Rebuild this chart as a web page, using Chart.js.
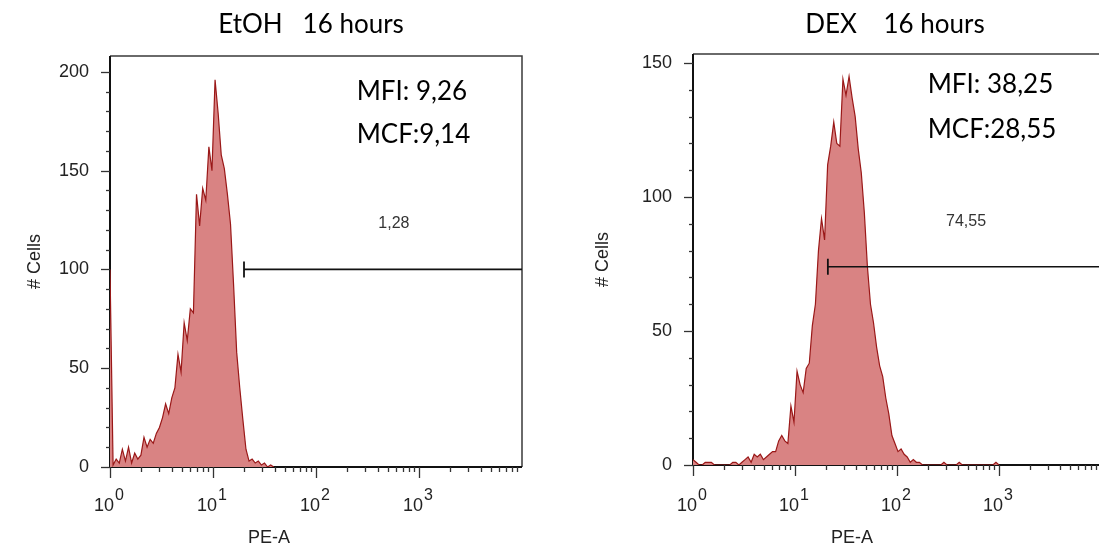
<!DOCTYPE html>
<html>
<head>
<meta charset="utf-8">
<script src="https://cdn.jsdelivr.net/npm/chart.js@4.4.1/dist/chart.umd.min.js"></script>
<style>
html,body{margin:0;padding:0;background:#fff;overflow:hidden;width:1099px;height:544px}
canvas{position:absolute;top:0}
#c1{left:0}
#c2{left:560px}
</style>
</head>
<body>
<canvas id="c1" width="560" height="544"></canvas>
<canvas id="c2" width="560" height="544"></canvas>
<script>
// histogram bins start at 10^0, each bin is 0.03 decade wide
const BIN_STEP=0.03;
const etohCounts=[100,1,4,2,9,3,10,2,7,4,6,15,10,14,12,17,20,25,32,27,35,40,57,48,73,64,80,78,138,122,
  141,135,162,150,196,179,158,151,138,123,92,58,40,24,9,3,4,2,3,1,2,0,1,0];
const dexCounts=[2,1,0,0,1,1,1,0,0,0, 0,0,0,1,1,0,1,2,3,1, 4,3,4,2,3,4,5,5,9,11,
  9,8,22,16,35,30,27,36,38,52, 60,80,92,84,112,119,128,120,119,144, 138,145,137,130,118,109,94,74,60,53,
  44,37,33,25,19,11,8,5,6,4, 3,1,2,1,1,0,0,0,0,0, 0,0,1,0,0,0,0,1,0,0, 0,0,0,0,0,0,0,0,0,1, 0];

const titles=["EtOH   16 hours","DEX    16 hours"];
const yMax=[208,153.4];
const yTicks=[[0,50,100,150,200],[0,50,100,150]];
const gateStart=[20,21];
const gateLevel=[100,74];
const gateLabel=["1,28","74,55"];
const gateLabelPos=[[570,123],[475,91]];
const mfiText=[["MFI: 9,26","MCF:9,14"],["MFI: 38,25","MCF:28,55"]];
const mfiPos=[[[248,190],[248,168]],[[200,142],[200,125]]];
const xDecades=[0,1,2,3];

const ARIAL='"Liberation Sans", Arial, sans-serif';
const CALIBRI='Lato, "Open Sans", sans-serif';

const toPoints=(counts)=>counts.map((c,i)=>({x:Math.pow(10,i*BIN_STEP),y:c}));

function flowPlugin(k,lay){
  return {
    id:"flow"+k,
    beforeDatasetsDraw(chart){
      const {ctx,chartArea:a,scales:{x,y}}=chart;
      ctx.save();
      // frame
      ctx.strokeStyle="#3a3a3a"; ctx.lineWidth=1.5;
      ctx.beginPath(); ctx.moveTo(a.left,a.top); ctx.lineTo(a.right,a.top); ctx.lineTo(a.right,a.bottom); ctx.stroke();
      ctx.strokeStyle="#111"; ctx.lineWidth=2;
      ctx.beginPath(); ctx.moveTo(a.left,a.top); ctx.lineTo(a.left,a.bottom); ctx.lineTo(a.right,a.bottom); ctx.stroke();
      // y ticks
      ctx.lineWidth=1.3; ctx.strokeStyle="#333";
      for(let v=0; v<=y.max; v+=10){
        const py=Math.round(y.getPixelForValue(v))+0.5, len=v%50===0?9:4;
        ctx.beginPath(); ctx.moveTo(a.left,py); ctx.lineTo(a.left-len,py); ctx.stroke();
      }
      // x ticks (log)
      for(let d=0; d<4; d++){
        for(let m=1;m<=9;m++){
          const v=m*Math.pow(10,d); if(v>x.max) break;
          const px=Math.round(x.getPixelForValue(v))+0.5, len=m===1?11:5;
          ctx.beginPath(); ctx.moveTo(px,a.bottom); ctx.lineTo(px,a.bottom+len); ctx.stroke();
        }
      }
      ctx.restore();
    },
    afterDatasetsDraw(chart){
      const {ctx,chartArea:a,scales:{x,y}}=chart;
      ctx.save();
      // x tick labels 10^n
      ctx.fillStyle="#222"; ctx.textBaseline="alphabetic";
      xDecades.forEach(d=>{
        const px=x.getPixelForValue(Math.pow(10,d));
        ctx.font="18px "+ARIAL; ctx.textAlign="right";
        ctx.fillText("10",px+4,511);
        ctx.font="16px "+ARIAL; ctx.textAlign="left";
        ctx.fillText(String(d),px+5,500);
      });
      // axis titles
      ctx.font="18px "+ARIAL; ctx.textAlign="center";
      ctx.fillText("PE-A",lay.peX,543);
      ctx.save(); ctx.translate(lay.cellsX,(a.top+a.bottom)/2); ctx.rotate(-Math.PI/2);
      ctx.textBaseline="middle"; ctx.fillText("# Cells",0,0); ctx.restore();
      // gate percentage
      ctx.font="16px "+ARIAL; ctx.textAlign="center"; ctx.textBaseline="middle"; ctx.fillStyle="#333";
      ctx.fillText(gateLabel[k],x.getPixelForValue(gateLabelPos[k][0]),y.getPixelForValue(gateLabelPos[k][1]));
      // MFI / MCF
      ctx.font="26px "+CALIBRI; ctx.textAlign="left"; ctx.fillStyle="#000";
      mfiText[k].forEach((t,i)=>ctx.fillText(t,x.getPixelForValue(mfiPos[k][i][0]),y.getPixelForValue(mfiPos[k][i][1])));
      // panel title
      ctx.textAlign="center";
      ctx.fillText(titles[k],lay.titleX,25);
      ctx.restore();
    }
  };
}

function makeChart(id,k,counts,lay){
  return new Chart(document.getElementById(id),{
    type:"line",
    data:{datasets:[
      {data:toPoints(counts),borderColor:"#9a1818",borderWidth:1.2,backgroundColor:"#d98383",
       fill:"origin",pointRadius:0,tension:0,order:2},
      {data:[{x:gateStart[k],y:gateLevel[k]},{x:10000,y:gateLevel[k]}],borderColor:"#111",borderWidth:1.6,
       fill:false,pointStyle:"line",rotation:90,pointRadius:[8,0],pointBorderWidth:1.8,pointBorderColor:"#111",order:1}
    ]},
    options:{
      responsive:false,animation:false,
      layout:{padding:{top:lay.top,right:lay.right,left:0,bottom:0}},
      plugins:{legend:{display:false},tooltip:{enabled:false}},
      scales:{
        x:{type:"logarithmic",min:1,max:10000,grid:{display:false},border:{display:false},ticks:{display:false},
           afterFit:(s)=>{s.height=lay.xh;}},
        y:{min:0,max:yMax[k],grid:{display:false,tickLength:8},border:{display:false},
           ticks:{padding:13,color:"#222",font:{family:ARIAL,size:18},autoSkip:false},
           afterBuildTicks:(s)=>{s.ticks=yTicks[k].map(v=>({value:v}));},
           afterFit:(s)=>{s.width=lay.yw;}}
      }
    },
    plugins:[flowPlugin(k,lay)]
  });
}

makeChart("c1",0,etohCounts,{top:56,right:38,xh:77,yw:110,peX:269,cellsX:35,titleX:311});
makeChart("c2",1,dexCounts,{top:54,right:19,xh:79,yw:133,peX:292,cellsX:43,titleX:335});
</script>
</body>
</html>
